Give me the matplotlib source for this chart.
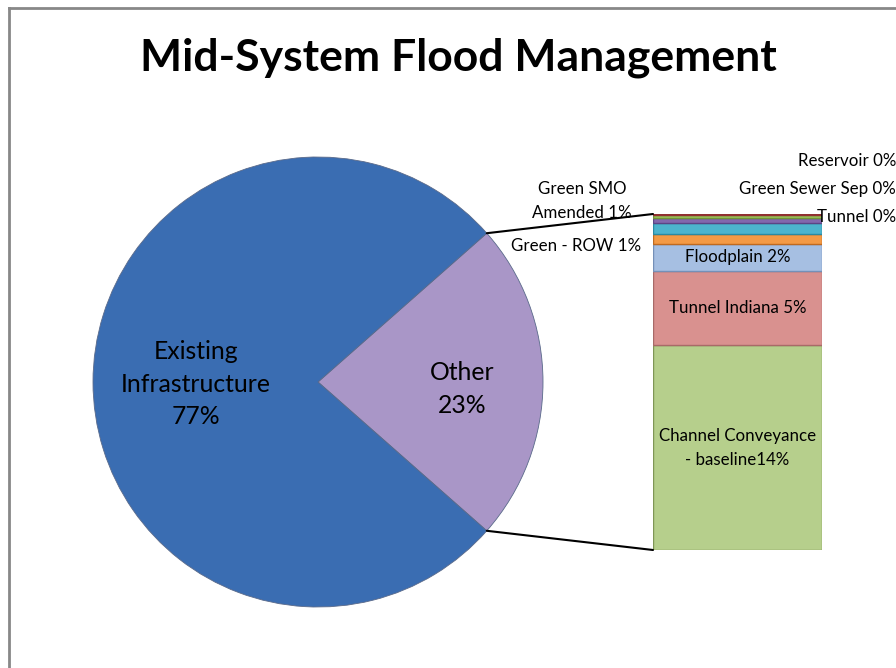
import numpy as np
import matplotlib.pyplot as plt
from matplotlib.patches import ConnectionPatch
from matplotlib.lines import Line2D

# Datos
existing_label = 'Existing\nInfrastructure\n77%'
existing_value = 77.0
other_label = 'Other\n23%'
bar_labels = ['Channel Conveyance\n- baseline14%', 'Tunnel Indiana 5%',
              'Floodplain 2%', 'Green - ROW 1%', 'Green SMO\nAmended 1%',
              'Tunnel 0%', 'Green Sewer Sep 0%', 'Reservoir 0%']
bar_values = [14.0, 5.1, 1.85, 0.7, 0.7, 0.4, 0.2, 0.05]
bar_colors = ['#b6cf8c', '#d9918f', '#a6bfe2', '#f49a45', '#4db4cd',
              '#8367ad', '#9cc45b', '#c0504d']
bar_edges = ['#7f9656', '#a86a68', '#7590b8', '#c06a20', '#2a8aa2',
             '#5c4585', '#6f9438', '#903030']

W, H = 896, 668
plt.rcParams['font.family'] = ['Lato', 'DejaVu Sans']


def fx(x):
    return x / W


def fy(y):
    return 1 - y / H


fig = plt.figure(figsize=(W / 100, H / 100), dpi=100)
fig.patch.set_facecolor('white')

# Marco
fig.add_artist(Line2D([fx(8.5), fx(8.5)], [fy(7.5), 0], color='#888888', lw=2))
fig.add_artist(Line2D([fx(8.5), 1], [fy(7.5), fy(7.5)], color='#888888', lw=2))

fig.text(fx(458), fy(58), 'Mid-System Flood Management', ha='center',
         va='center', fontsize=32, fontweight='bold')

# Pastel
cx, cy, r = 318, 382, 225
pad = 1.1
ax = fig.add_axes([fx(cx - r * pad), fy(cy + r * pad),
                   2 * r * pad / W, 2 * r * pad / H])
other_total = sum(bar_values)
half = other_total / 100 * 360 / 2
wedges, _ = ax.pie([other_total, existing_value], startangle=-half,
                   colors=['#a996c7', '#3a6db2'],
                   wedgeprops=dict(edgecolor='#5a6a8a', linewidth=0.6))
ax.set_xlim(-pad, pad)
ax.set_ylim(-pad, pad)
ax.set_aspect('equal')
ax.axis('off')

fig.text(fx(196), fy(384), existing_label, ha='center', va='center',
         fontsize=17.8, linespacing=1.5)
fig.text(fx(462), fy(389), other_label, ha='center', va='center',
         fontsize=17.8, linespacing=1.5)

# Barra apilada
bx0, bx1, by0, by1 = 653, 822, 214, 550
bax = fig.add_axes([fx(bx0), fy(by1), (bx1 - bx0) / W, (by1 - by0) / H])
bottoms = np.concatenate([[0], np.cumsum(bar_values)[:-1]])
bax.bar(0, bar_values, bottom=bottoms, width=1, color=bar_colors,
        edgecolor=bar_edges, linewidth=1)
bax.set_xlim(-0.5, 0.5)
bax.set_ylim(0, other_total)
bax.axis('off')

for i in range(3):
    bax.text(0, bottoms[i] + bar_values[i] / 2, bar_labels[i], ha='center',
             va='center', fontsize=12.2, linespacing=1.6)

# Etiquetas externas
fig.text(fx(641), fy(246), bar_labels[3], ha='right', va='center', fontsize=12.2)
fig.text(fx(582), fy(201), bar_labels[4], ha='center', va='center',
         fontsize=12.2, linespacing=1.6)
fig.text(fx(896), fy(217), bar_labels[5], ha='right', va='center', fontsize=12.2)
fig.text(fx(896), fy(189), bar_labels[6], ha='right', va='center', fontsize=12.2)
fig.text(fx(896), fy(161), bar_labels[7], ha='right', va='center', fontsize=12.2)

# Lineas de conexion
theta = np.deg2rad(half)
for sgn, yb in [(1, other_total), (-1, 0)]:
    con = ConnectionPatch(xyA=(np.cos(theta), sgn * np.sin(theta)), coordsA=ax.transData,
                          xyB=(-0.5, yb), coordsB=bax.transData,
                          color='black', lw=1.5)
    fig.add_artist(con)

fig.savefig('out.png', dpi=100)
